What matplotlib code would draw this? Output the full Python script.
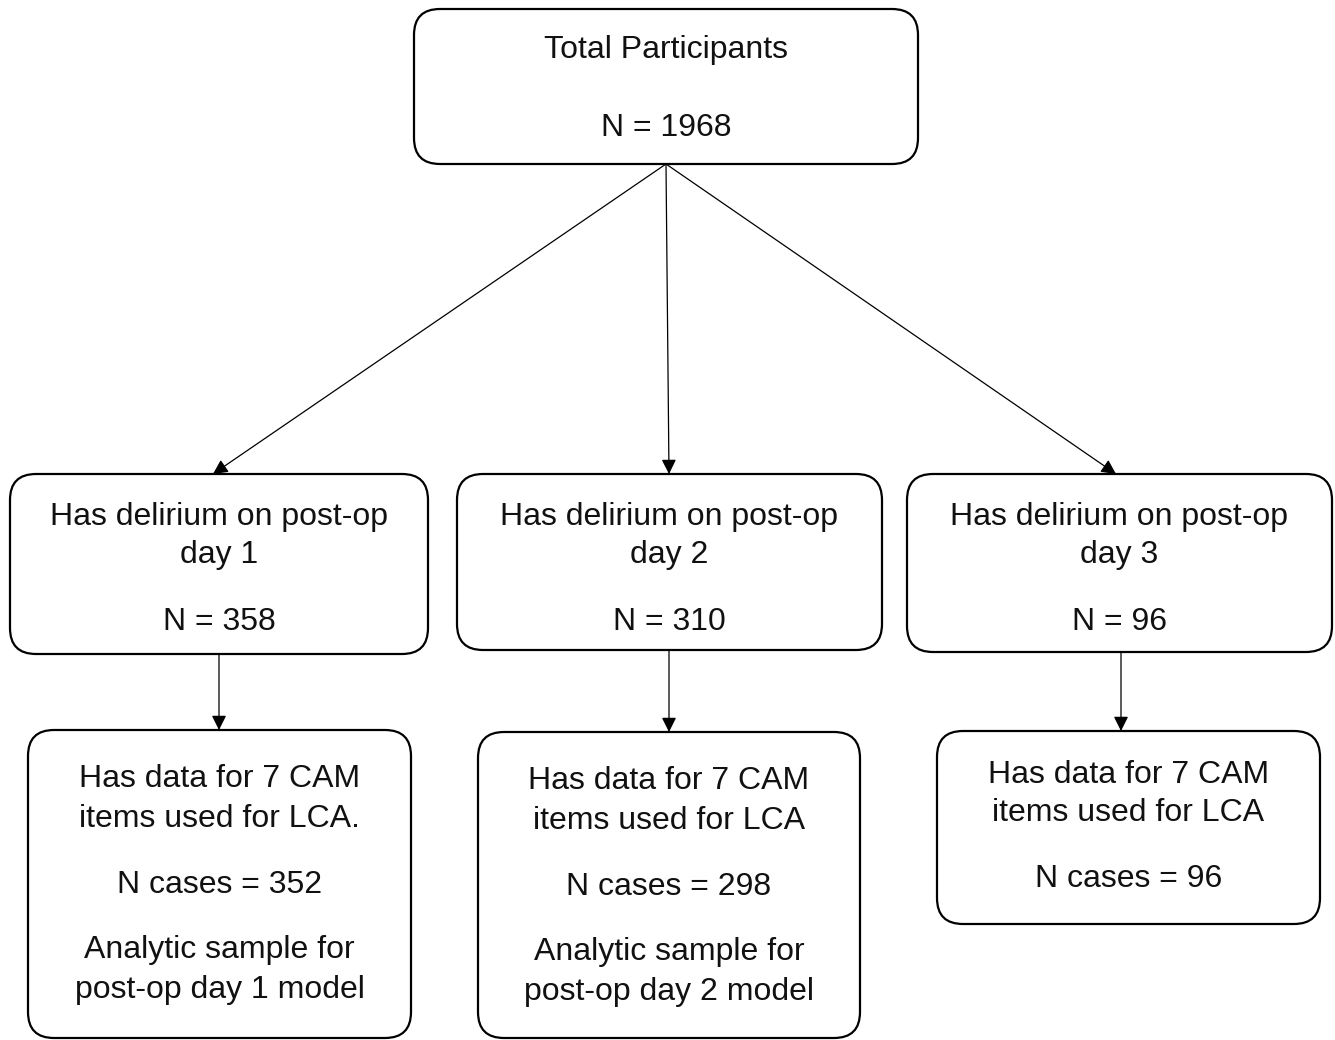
import matplotlib
matplotlib.use("Agg")
import matplotlib.pyplot as plt
from matplotlib.patches import FancyBboxPatch

plt.rcParams['font.family'] = ['Liberation Sans', 'DejaVu Sans']

# ---- data ----
total_label = "Total Participants"
total_n = 1968
days = [1, 2, 3]
delirium_n = [358, 310, 96]
cam_n = [352, 298, 96]
cam_text = ["Has data for 7 CAM\nitems used for LCA.",
            "Has data for 7 CAM\nitems used for LCA",
            "Has data for 7 CAM\nitems used for LCA"]
analytic_text = ["Analytic sample for\npost-op day 1 model",
                 "Analytic sample for\npost-op day 2 model",
                 None]

W, H = 1335, 1040
fig = plt.figure(figsize=(W / 100, H / 100), dpi=100)
ax = fig.add_axes([0, 0, 1, 1])
ax.set_xlim(0, W)
ax.set_ylim(H, 0)
ax.axis('off')

FS = 23
DY = 3


def box(x0, y0, x1, y1):
    p = FancyBboxPatch((x0, y0), x1 - x0, y1 - y0,
                       boxstyle="round,pad=0,rounding_size=26",
                       fc='white', ec='black', lw=1.6, zorder=2)
    ax.add_patch(p)


def txt(x, y, s, ls=1.36):
    ax.text(x, y + DY, s, ha='center', va='center', fontsize=FS, zorder=3,
            linespacing=ls, color='#111111')


def arrow(x0, y0, x1, y1):
    ax.annotate('', xy=(x1, y1), xytext=(x0, y0),
                arrowprops=dict(arrowstyle='-|>', mutation_scale=22,
                                lw=0.9, color='black',
                                shrinkA=0, shrinkB=0), zorder=1)


# top box
box(414, 9, 918, 164)
txt(666, 47, total_label)
txt(666, 125, f"N = {total_n}")

mid = [(10, 428, 654), (457, 882, 650), (907, 1332, 652)]
arrow_tops = [213, 669, 1116]
bottom = [(28, 411, 730, 1038), (478, 860, 732, 1038), (937, 1320, 731, 924)]
down_x = [219, 669, 1121]

for i in range(3):
    x0, x1, yb = mid[i]
    box(x0, 474, x1, yb)
    cx = (x0 + x1) / 2
    txt(cx, 533, f"Has delirium on post-op\nday {days[i]}")
    txt(cx, 619, f"N = {delirium_n[i]}")
    arrow(666, 164, arrow_tops[i], 474)

    bx0, bx1, by0, by1 = bottom[i]
    box(bx0, by0, bx1, by1)
    bcx = (bx0 + bx1) / 2
    off = by0 - 730
    if analytic_text[i] is not None:
        txt(bcx, 796 + off, cam_text[i], 1.42)
        txt(bcx, 882 + off, f"N cases = {cam_n[i]}")
        txt(bcx, 967 + off, analytic_text[i], 1.42)
    else:
        txt(bcx, 791, cam_text[i], 1.38)
        txt(bcx, 876, f"N cases = {cam_n[i]}")
    arrow(down_x[i], yb, down_x[i], by0)

fig.savefig("out.png", dpi=100, facecolor='white')
